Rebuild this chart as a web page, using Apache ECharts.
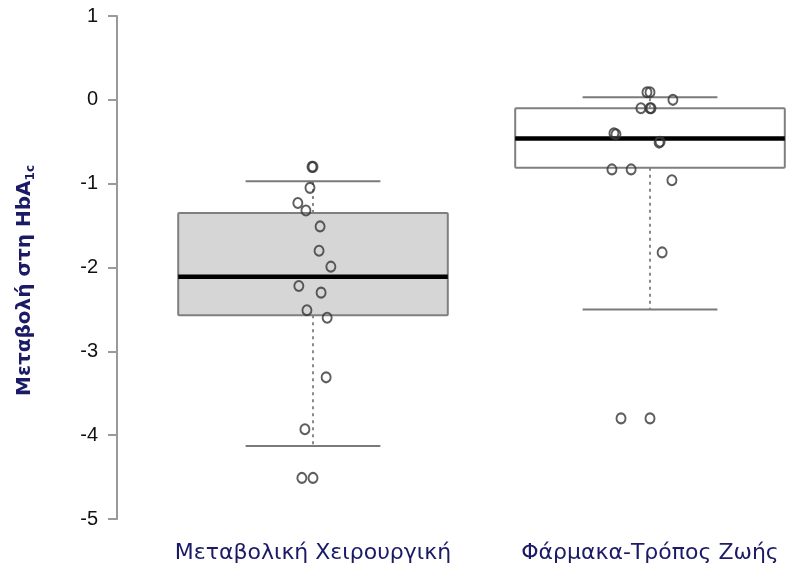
<!DOCTYPE html>
<html>
<head>
<meta charset="utf-8">
<script src="https://cdn.jsdelivr.net/npm/echarts@6/dist/echarts.min.js"></script>
<style>
  html, body { margin: 0; padding: 0; background: #ffffff; }
  #chart { width: 789px; height: 573px; }
</style>
</head>
<body>
<div id="chart"></div>
<script>
// Groups shown along the x axis
const categories = ['Μεταβολική Χειρουργική', 'Φάρμακα-Τρόπος Ζωής'];

// Five-number summaries: lower whisker, Q1, median, Q3, upper whisker
const surgeryBox = [-4.13, -2.57, -2.11, -1.35, -0.97];
const lifestyleBox = [-2.50, -0.81, -0.46, -0.10, 0.03];

// Individual HbA1c changes per group
const surgeryValues = [-0.80, -0.80, -1.05, -1.23, -1.32, -1.51, -1.80, -1.99, -2.22, -2.30, -2.51, -2.60, -3.31, -3.93, -4.51, -4.51];
const lifestyleValues = [0.09, 0.09, 0.00, -0.10, -0.10, -0.10, -0.40, -0.41, -0.50, -0.51, -0.83, -0.83, -0.96, -1.82, -3.80, -3.80];

// Horizontal jitter of each point, in category widths
const surgeryJitter = [-0.003, 0.000, -0.009, -0.045, -0.021, 0.021, 0.018, 0.053, -0.042, 0.024, -0.018, 0.042, 0.039, -0.024, -0.033, 0.000];
const lifestyleJitter = [-0.009, 0.000, 0.068, -0.027, 0.003, 0.000, -0.107, -0.101, 0.030, 0.027, -0.113, -0.056, 0.065, 0.036, -0.086, 0.000];

// Y axis range and step
const yMin = -5, yMax = 1, yStep = 1;

const boxFill = ['#d6d6d6', '#ffffff'];

function pointsFor(index, values, jitter) {
  return values.map((v, i) => [index + jitter[i], v]);
}

const chart = echarts.init(document.getElementById('chart'), null, { renderer: 'canvas' });

const pointStyle = {
  color: 'rgba(0,0,0,0)',
  borderColor: '#363636',
  borderWidth: 2
};

chart.setOption({
  animation: false,
  backgroundColor: '#ffffff',
  grid: { left: 144.5, top: 16, width: 674, height: 503, outerBoundsMode: 'none', containLabel: false },
  xAxis: [
    {
      type: 'category',
      data: categories,
      axisLine: { show: false, onZero: false },
      axisTick: { show: false },
      splitLine: { show: false },
      axisLabel: {
        interval: 0,
        margin: 23,
        fontSize: 22,
        fontFamily: 'DejaVu Sans',
        color: '#1a1a66'
      }
    },
    {
      type: 'value',
      min: -0.5,
      max: 1.5,
      show: false,
      axisLine: { onZero: false },
      splitLine: { show: false }
    }
  ],
  yAxis: {
    type: 'value',
    min: yMin,
    max: yMax,
    interval: yStep,
    offset: 27.5,
    axisLine: { show: true, onZero: false, lineStyle: { color: '#9a9a9a', width: 2 } },
    axisTick: { show: true, length: 9, lineStyle: { color: '#9a9a9a', width: 2 } },
    splitLine: { show: false },
    axisLabel: {
      margin: 19,
      fontSize: 20,
      fontFamily: 'Liberation Sans',
      color: '#111111'
    },
    name: '{m|Μεταβολή στη HbA}{s|1c}',
    nameLocation: 'middle',
    nameGap: 80,
    nameRotate: 90,
    nameTextStyle: {
      padding: [0, 26, 0, 0],
      rich: {
        m: { fontSize: 20, fontWeight: 'bold', fontFamily: 'DejaVu Sans', color: '#1a1a66', lineHeight: 24 },
        s: { fontSize: 12, fontWeight: 'bold', fontFamily: 'DejaVu Sans', color: '#1a1a66', lineHeight: 24, verticalAlign: 'bottom', padding: [6, 0, 0, 0] }
      }
    }
  },
  series: [
    {
      type: 'custom',
      xAxisIndex: 1,
      data: [[0].concat(surgeryBox), [1].concat(lifestyleBox)],
      encode: { x: 0, y: [1, 2, 3, 4, 5] },
      renderItem: function (params, api) {
        const idx = api.value(0);
        const lo = api.value(1), q1 = api.value(2), med = api.value(3), q3 = api.value(4), hi = api.value(5);
        const band = api.size([1, 0])[0];
        const boxW = band * 0.8;
        const capW = band * 0.4;
        const cx = api.coord([idx, med])[0];
        const y = function (v) { return api.coord([idx, v])[1]; };
        const dashStyle = { stroke: '#8a8a8a', lineWidth: 2, lineDash: [3, 4], fill: null };
        const capStyle = { stroke: '#7a7a7a', lineWidth: 2, fill: null };
        return {
          type: 'group',
          children: [
            { type: 'line', shape: { x1: cx, y1: y(q3), x2: cx, y2: y(hi) }, style: dashStyle },
            { type: 'line', shape: { x1: cx, y1: y(q1), x2: cx, y2: y(lo) }, style: dashStyle },
            { type: 'line', shape: { x1: cx - capW / 2, y1: y(hi), x2: cx + capW / 2, y2: y(hi) }, style: capStyle },
            { type: 'line', shape: { x1: cx - capW / 2, y1: y(lo), x2: cx + capW / 2, y2: y(lo) }, style: capStyle },
            {
              type: 'rect',
              shape: { x: cx - boxW / 2, y: y(q3), width: boxW, height: y(q1) - y(q3), r: 1 },
              style: { fill: boxFill[params.dataIndex], stroke: '#7f7f7f', lineWidth: 2 }
            },
            { type: 'line', shape: { x1: cx - boxW / 2, y1: y(med), x2: cx + boxW / 2, y2: y(med) }, style: { stroke: '#000000', lineWidth: 4.5 } }
          ]
        };
      },
      z: 2
    },
    {
      type: 'scatter',
      xAxisIndex: 1,
      data: pointsFor(0, surgeryValues, surgeryJitter),
      symbol: 'circle',
      symbolSize: [9, 10],
      itemStyle: pointStyle,
      z: 3
    },
    {
      type: 'scatter',
      xAxisIndex: 1,
      data: pointsFor(1, lifestyleValues, lifestyleJitter),
      symbol: 'circle',
      symbolSize: [9, 10],
      itemStyle: pointStyle,
      z: 3
    }
  ]
});
</script>
</body>
</html>
